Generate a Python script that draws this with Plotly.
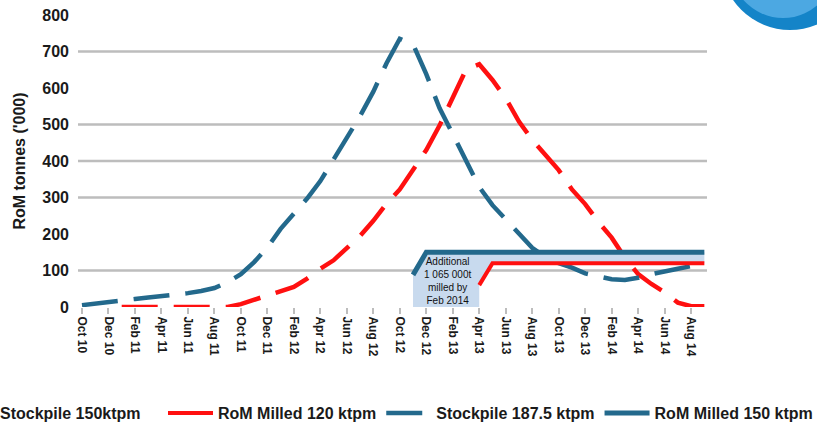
import plotly.graph_objects as go

MONTHS = [
    "Oct 10", "Nov 10", "Dec 10",
    "Jan 11", "Feb 11", "Mar 11", "Apr 11", "May 11", "Jun 11",
    "Jul 11", "Aug 11", "Sep 11", "Oct 11", "Nov 11", "Dec 11",
    "Jan 12", "Feb 12", "Mar 12", "Apr 12", "May 12", "Jun 12",
    "Jul 12", "Aug 12", "Sep 12", "Oct 12", "Nov 12", "Dec 12",
    "Jan 13", "Feb 13", "Mar 13", "Apr 13", "May 13", "Jun 13",
    "Jul 13", "Aug 13", "Sep 13", "Oct 13", "Nov 13", "Dec 13",
    "Jan 14", "Feb 14", "Mar 14", "Apr 14", "May 14", "Jun 14",
    "Jul 14", "Aug 14", "Sep 14",
]
TICK_LABELS = MONTHS[0:47:2]

STOCKPILE_150 = [
    None, None, None, 0, 0, 0, 0, 0, 0, 0, 0, 0,
    8, 20, 30, 42, 55, 78, 105, 128, 162, 195, 236, 283,
    322, 375, 430, 497, 575, 650, 665, 622, 572, 508, 458, 418,
    375, 322, 282, 233, 190, 135, 90, 63, 40, 12, 2, 2,
]
STOCKPILE_187 = [
    5, 10, 15, 19, 22, 26, 29, 33, 38, 44, 52, 68,
    90, 123, 163, 214, 257, 297, 345, 405, 462, 523, 590, 668,
    735, 720, 638, 545, 474, 398, 329, 279, 241, 200, 162, 137,
    120, 108, 92, 84, 76, 74, 80, 90, 99, 105, 112, 120,
]
ROM_120 = [None] * 30 + [60] + [120] * 17
ROM_150 = [None] * 25 + [88] + [150] * 22

GRID_VALUES = [100, 300, 400, 500, 700]
NOTE = "Additional<br>1 065 000t<br>milled by<br>Feb 2014"

RED = "#ff1010"
BLUE = "#23698c"
FILL = "#c8daee"
LEG_FONT = dict(family="Arial", size=16, color="#1a1a1a", weight="bold")

# plot-area geometry in pixels (used only for legend / decoration placement)
PL, PR, PT, PB = 78, 707, 15, 307
PW, PH = PR - PL, PB - PT


def px_x(px):
    return (px - PL) / PW


def px_y(py):
    return (PB - py) / PH


fig = go.Figure()

fig.add_trace(go.Scatter(
    x=MONTHS, y=STOCKPILE_150, name="Stockpile 150ktpm", mode="lines",
    line=dict(color=RED, width=4.5, dash="36px,16px"), legend="legend2",
))
fig.add_trace(go.Scatter(
    x=MONTHS, y=STOCKPILE_187, name="Stockpile 187.5 ktpm", mode="lines",
    line=dict(color=BLUE, width=4.5, dash="36px,16px"), legendrank=3,
))

# callout fill between the two milled series
up_x, up_y = [], []
for m, v in zip(MONTHS, ROM_150):
    if v is not None:
        up_x.append(m)
        up_y.append(v)
lo_x, lo_y = [], []
for m, v in zip(MONTHS, ROM_120):
    if v is not None:
        lo_x.append(m)
        lo_y.append(v)
poly_x = up_x + lo_x[::-1] + [lo_x[0], up_x[0]]
poly_y = up_y + lo_y[::-1] + [0, 0]
fig.add_trace(go.Scatter(
    x=poly_x, y=poly_y, mode="lines", fill="toself", fillcolor=FILL,
    line=dict(width=0, color=FILL), showlegend=False, hoverinfo="skip",
))

fig.add_trace(go.Scatter(
    x=MONTHS, y=ROM_120, name="RoM Milled 120 ktpm", mode="lines",
    line=dict(color=RED, width=4), legendrank=2,
))
fig.add_trace(go.Scatter(
    x=MONTHS, y=ROM_150, name="RoM Milled 150 ktpm", mode="lines",
    line=dict(color=BLUE, width=5), legendrank=4,
))

for g in GRID_VALUES:
    fig.add_hline(y=g, line=dict(color="#bdbdbd", width=2.5), layer="below")

fig.add_annotation(
    x=27.6, y=70, xref="x", yref="y", text=NOTE, showarrow=False,
    font=dict(family="Arial", size=10, color="#111"), align="center",
)

# decorative logo (top-right)
fig.add_shape(type="circle", xref="paper", yref="paper",
              x0=px_x(721), x1=px_x(859), y0=px_y(30), y1=px_y(-108),
              fillcolor="#1484c8", line=dict(width=0), layer="above")
fig.add_shape(type="circle", xref="paper", yref="paper",
              x0=px_x(726), x1=px_x(840), y0=px_y(18), y1=px_y(-110),
              fillcolor="rgba(95,180,235,0.75)", line=dict(width=0), layer="above")

fig.update_layout(
    width=817, height=429,
    margin=dict(l=PL, r=817 - PR, t=PT, b=429 - PB, autoexpand=False),
    paper_bgcolor="white", plot_bgcolor="white",
    font=dict(family="Arial", color="#1a1a1a"),
    showlegend=True,
    legend=dict(
        orientation="h", xref="paper", yref="paper",
        x=px_x(818), xanchor="right", y=px_y(413), yanchor="middle",
        font=LEG_FONT, itemwidth=45, traceorder="normal",
        bgcolor="rgba(0,0,0,0)",
    ),
    legend2=dict(
        orientation="h", xref="paper", yref="paper",
        x=px_x(-55), xanchor="left", y=px_y(413), yanchor="middle",
        font=LEG_FONT, itemwidth=45, bgcolor="rgba(0,0,0,0)",
    ),
    xaxis=dict(
        type="category", categoryorder="array", categoryarray=MONTHS,
        range=[-0.3, 47.2], tickmode="array", tickvals=TICK_LABELS,
        ticktext=TICK_LABELS, tickangle=90, showgrid=False, zeroline=False,
        showline=False, ticks="outside", ticklen=6, tickwidth=2,
        tickcolor="#bdbdbd",
        tickfont=dict(family="Arial", size=12, color="#1a1a1a", weight="bold"),
    ),
    yaxis=dict(
        range=[0, 800], tickvals=[0, 100, 200, 300, 400, 500, 600, 700, 800],
        showgrid=False, zeroline=False, showline=False,
        ticks="", ticklabelstandoff=8,
        tickfont=dict(family="Arial", size=16, color="#1a1a1a", weight="bold"),
        title=dict(text="RoM tonnes ('000)", standoff=12,
                   font=dict(family="Arial", size=16, color="#1a1a1a", weight="bold")),
    ),
)

fig.write_html("out.html")
